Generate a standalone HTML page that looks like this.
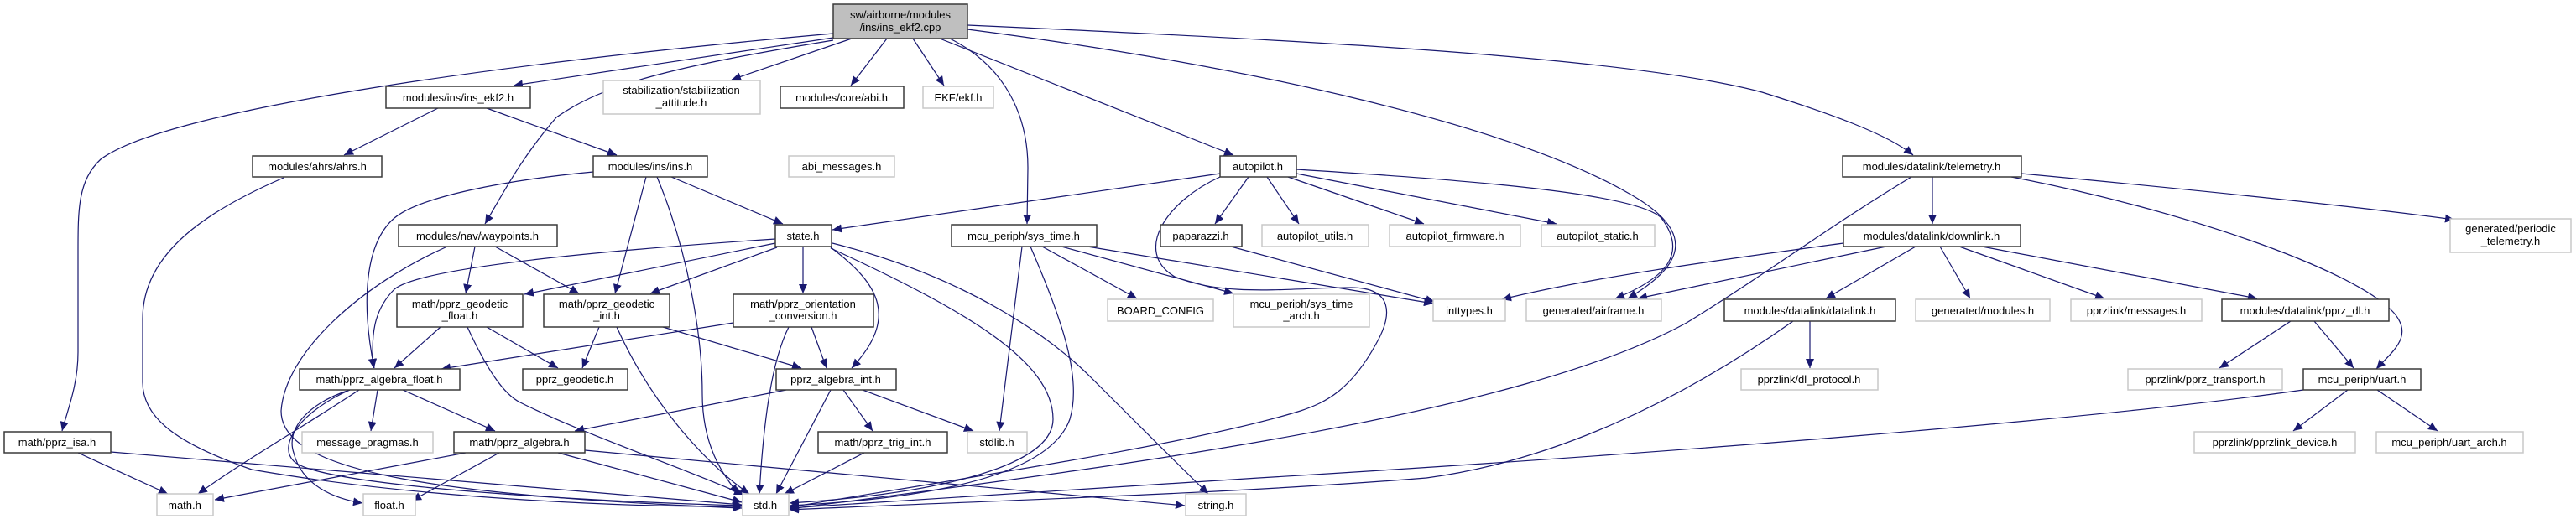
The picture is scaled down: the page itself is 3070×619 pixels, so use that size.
<!DOCTYPE html>
<html><head><meta charset="utf-8"><style>
html,body{margin:0;padding:0;background:#fff;}
svg{display:block;}
text{font-family:"Liberation Sans",sans-serif;font-size:13px;fill:#000;text-anchor:middle;}
.b{fill:#fff;stroke:#3a3a3a;stroke-width:1.5;}
.g{fill:#fff;stroke:#c8c8c8;stroke-width:1.5;}
.e{fill:none;stroke:#191970;stroke-width:1.2;marker-end:url(#a);}
</style></head><body>
<svg width="3070" height="619" viewBox="0 0 3070 619" xmlns="http://www.w3.org/2000/svg">
<defs><marker id="a" markerWidth="12" markerHeight="10" refX="11" refY="5" orient="auto" markerUnits="userSpaceOnUse"><path d="M0,0 L11,5 L0,10 z" fill="#191970"/></marker></defs>
<g>
<!-- root edges -->
<path class="e" d="M993,40 C600,75 200,130 120,190 C93,215 93,250 93,300 L93,420 C93,460 80,490 74,514"/>
<path class="e" d="M993,45 L612,102"/>
<path class="e" d="M993,48 C800,80 720,100 663,140 C620,190 600,230 578,267"/>
<path class="e" d="M1015,46 L872,95"/>
<path class="e" d="M1057,46 L1014,102"/>
<path class="e" d="M1088,46 L1125,102"/>
<path class="e" d="M1132,46 C1200,80 1225,140 1225,200 L1224,267"/>
<path class="e" d="M1120,46 L1470,185"/>
<path class="e" d="M1153,35 C1500,80 1800,150 1940,230 C2030,280 2000,320 1940,356"/>
<path class="e" d="M1153,30 C1600,50 1950,70 2100,110 C2180,135 2250,160 2280,185"/>
<!-- ins_ekf2.h -->
<path class="e" d="M522,129 L410,185"/>
<path class="e" d="M580,129 L735,185"/>
<!-- ahrs -->
<path class="e" d="M338,212 C250,250 170,300 170,380 L170,456 C170,500 214,530 300,560 C500,595 750,605 884,604"/>
<!-- ins.h -->
<path class="e" d="M707,205 C600,215 500,235 470,260 C435,290 430,360 446,439"/>
<path class="e" d="M770,211 L733,350"/>
<path class="e" d="M783,211 C820,300 837,400 837,470 C837,530 860,565 880,589"/>
<path class="e" d="M800,211 L933,267"/>
<!-- waypoints -->
<path class="e" d="M533,294 C430,340 340,420 335,490 C335,560 500,590 884,606"/>
<path class="e" d="M566,294 L555,350"/>
<path class="e" d="M590,294 L690,350"/>
<!-- state -->
<path class="e" d="M924,285 C700,300 500,320 470,345 C445,370 442,400 445,439"/>
<path class="e" d="M924,290 L625,351"/>
<path class="e" d="M926,295 L775,350"/>
<path class="e" d="M957,294 L957,350"/>
<path class="e" d="M990,295 C1050,340 1070,380 1015,439"/>
<path class="e" d="M990,296 C1150,370 1255,430 1255,500 C1255,560 1100,590 941,600"/>
<path class="e" d="M992,290 C1150,330 1250,400 1300,450 C1360,510 1410,560 1440,589"/>
<!-- orientation -->
<path class="e" d="M874,385 L526,440"/>
<path class="e" d="M967,390 L985,439"/>
<path class="e" d="M940,390 C920,430 910,500 905,589"/>
<!-- geodetic float/int -->
<path class="e" d="M525,390 L470,439"/>
<path class="e" d="M580,390 L665,439"/>
<path class="e" d="M557,390 C580,440 600,470 620,480 C700,520 820,560 886,590"/>
<path class="e" d="M714,390 L694,439"/>
<path class="e" d="M790,390 L955,439"/>
<path class="e" d="M735,390 C780,490 850,560 893,589"/>
<!-- algebra_float -->
<path class="e" d="M428,465 C360,510 290,550 236,589"/>
<path class="e" d="M450,465 L442,514"/>
<path class="e" d="M480,465 L590,514"/>
<path class="e" d="M417,465 C370,480 340,510 350,540 C360,580 400,595 432,600"/>
<path class="e" d="M417,465 C360,490 330,530 350,550 C380,580 700,598 884,603"/>
<!-- algebra_int -->
<path class="e" d="M937,465 L685,514"/>
<path class="e" d="M990,465 L925,589"/>
<path class="e" d="M1005,465 L1040,514"/>
<path class="e" d="M1028,465 L1160,514"/>
<!-- algebra.h -->
<path class="e" d="M555,540 L256,596"/>
<path class="e" d="M595,540 L491,597"/>
<path class="e" d="M665,540 L884,599"/>
<path class="e" d="M697,537 L1412,603"/>
<!-- isa -->
<path class="e" d="M93,540 L200,589"/>
<path class="e" d="M132,539 L884,602"/>
<!-- trig -->
<path class="e" d="M1030,540 L935,589"/>
<!-- sys_time -->
<path class="e" d="M1218,294 L1191,514"/>
<path class="e" d="M1228,294 C1265,380 1290,450 1275,500 C1250,570 1100,595 941,603"/>
<path class="e" d="M1242,294 L1355,356"/>
<path class="e" d="M1265,294 L1470,350"/>
<path class="e" d="M1296,294 L1708,362"/>
<!-- autopilot -->
<path class="e" d="M1454,207 L992,274"/>
<path class="e" d="M1488,211 L1448,267"/>
<path class="e" d="M1510,211 L1548,267"/>
<path class="e" d="M1535,211 L1697,267"/>
<path class="e" d="M1545,207 L1855,267"/>
<path class="e" d="M1545,202 C1750,215 1950,230 1980,260 C2010,300 1990,330 1925,356"/>
<path class="e" d="M1454,211 C1390,240 1350,300 1400,330 C1460,355 1540,343 1610,343 C1660,343 1660,375 1640,410 C1610,465 1580,480 1550,490 C1420,530 1150,570 941,605"/>
<path class="e" d="M1467,294 L1710,360"/>
<!-- telemetry -->
<path class="e" d="M2303,211 L2303,267"/>
<path class="e" d="M2278,211 C2180,270 2100,330 2010,385 C1800,500 1300,560 941,607"/>
<path class="e" d="M2409,207 C2600,225 2800,245 2925,262"/>
<path class="e" d="M2397,211 C2600,250 2800,320 2850,370 C2880,400 2850,420 2832,440"/>
<!-- downlink -->
<path class="e" d="M2197,290 C2050,310 1900,330 1790,357"/>
<path class="e" d="M2248,294 L1952,356"/>
<path class="e" d="M2283,294 L2176,356"/>
<path class="e" d="M2312,294 L2348,356"/>
<path class="e" d="M2335,294 L2508,356"/>
<path class="e" d="M2362,294 L2690,356"/>
<!-- datalink -->
<path class="e" d="M2157,383 L2157,439"/>
<path class="e" d="M2137,383 C2000,480 1850,550 1700,570 C1450,590 1150,598 941,608"/>
<!-- pprz_dl -->
<path class="e" d="M2730,383 L2645,439"/>
<path class="e" d="M2758,383 L2805,439"/>
<!-- uart -->
<path class="e" d="M2798,465 L2733,514"/>
<path class="e" d="M2833,465 L2905,514"/>
<path class="e" d="M2745,465 C2500,500 2000,540 1500,570 C1250,585 1100,595 941,606"/>
</g>
<g>
<rect x="993" y="5" width="160" height="41" fill="#bfbfbf" stroke="#3a3a3a" stroke-width="1.5"/>
<text x="1073" y="22">sw/airborne/modules</text><text x="1073" y="37">/ins/ins_ekf2.cpp</text>
<rect class="b" x="460" y="103" width="172" height="26"/><text x="546" y="121">modules/ins/ins_ekf2.h</text>
<rect class="g" x="719" y="96" width="187" height="40"/><text x="812" y="112">stabilization/stabilization</text><text x="812" y="127">_attitude.h</text>
<rect class="b" x="930" y="103" width="147" height="26"/><text x="1003" y="121">modules/core/abi.h</text>
<rect class="g" x="1100" y="103" width="84" height="26"/><text x="1142" y="121">EKF/ekf.h</text>
<rect class="b" x="301" y="186" width="154" height="25"/><text x="378" y="203">modules/ahrs/ahrs.h</text>
<rect class="b" x="707" y="186" width="136" height="25"/><text x="775" y="203">modules/ins/ins.h</text>
<rect class="g" x="940" y="186" width="126" height="25"/><text x="1003" y="203">abi_messages.h</text>
<rect class="b" x="1454" y="186" width="91" height="25"/><text x="1499" y="203">autopilot.h</text>
<rect class="b" x="2196" y="186" width="213" height="25"/><text x="2302" y="203">modules/datalink/telemetry.h</text>
<rect class="b" x="475" y="268" width="189" height="26"/><text x="569" y="286">modules/nav/waypoints.h</text>
<rect class="b" x="924" y="268" width="67" height="26"/><text x="957" y="286">state.h</text>
<rect class="b" x="1134" y="268" width="173" height="26"/><text x="1220" y="286">mcu_periph/sys_time.h</text>
<rect class="b" x="1383" y="268" width="97" height="26"/><text x="1431" y="286">paparazzi.h</text>
<rect class="g" x="1504" y="268" width="127" height="26"/><text x="1567" y="286">autopilot_utils.h</text>
<rect class="g" x="1656" y="268" width="156" height="26"/><text x="1734" y="286">autopilot_firmware.h</text>
<rect class="g" x="1837" y="268" width="135" height="26"/><text x="1904" y="286">autopilot_static.h</text>
<rect class="b" x="2197" y="268" width="211" height="26"/><text x="2302" y="286">modules/datalink/downlink.h</text>
<rect class="g" x="2920" y="261" width="144" height="40"/><text x="2992" y="277">generated/periodic</text><text x="2992" y="292">_telemetry.h</text>
<rect class="b" x="473" y="351" width="150" height="39"/><text x="548" y="367">math/pprz_geodetic</text><text x="548" y="381">_float.h</text>
<rect class="b" x="648" y="351" width="150" height="39"/><text x="723" y="367">math/pprz_geodetic</text><text x="723" y="381">_int.h</text>
<rect class="b" x="874" y="351" width="167" height="39"/><text x="957" y="367">math/pprz_orientation</text><text x="957" y="381">_conversion.h</text>
<rect class="g" x="1320" y="357" width="126" height="26"/><text x="1383" y="375">BOARD_CONFIG</text>
<rect class="g" x="1470" y="351" width="162" height="39"/><text x="1551" y="367">mcu_periph/sys_time</text><text x="1551" y="381">_arch.h</text>
<rect class="g" x="1708" y="357" width="86" height="26"/><text x="1751" y="375">inttypes.h</text>
<rect class="g" x="1819" y="357" width="161" height="26"/><text x="1899" y="375">generated/airframe.h</text>
<rect class="b" x="2055" y="357" width="204" height="26"/><text x="2157" y="375">modules/datalink/datalink.h</text>
<rect class="g" x="2283" y="357" width="160" height="26"/><text x="2363" y="375">generated/modules.h</text>
<rect class="g" x="2468" y="357" width="156" height="26"/><text x="2546" y="375">pprzlink/messages.h</text>
<rect class="b" x="2648" y="357" width="199" height="26"/><text x="2747" y="375">modules/datalink/pprz_dl.h</text>
<rect class="b" x="357" y="440" width="191" height="25"/><text x="452" y="457">math/pprz_algebra_float.h</text>
<rect class="b" x="623" y="440" width="125" height="25"/><text x="685" y="457">pprz_geodetic.h</text>
<rect class="b" x="925" y="440" width="143" height="25"/><text x="996" y="457">pprz_algebra_int.h</text>
<rect class="g" x="2075" y="440" width="163" height="25"/><text x="2156" y="457">pprzlink/dl_protocol.h</text>
<rect class="g" x="2536" y="440" width="184" height="25"/><text x="2628" y="457">pprzlink/pprz_transport.h</text>
<rect class="b" x="2745" y="440" width="140" height="25"/><text x="2815" y="457">mcu_periph/uart.h</text>
<rect class="b" x="5" y="515" width="127" height="25"/><text x="68" y="532">math/pprz_isa.h</text>
<rect class="g" x="360" y="515" width="156" height="25"/><text x="438" y="532">message_pragmas.h</text>
<rect class="b" x="541" y="515" width="156" height="25"/><text x="619" y="532">math/pprz_algebra.h</text>
<rect class="b" x="975" y="515" width="154" height="25"/><text x="1052" y="532">math/pprz_trig_int.h</text>
<rect class="g" x="1153" y="515" width="71" height="25"/><text x="1188" y="532">stdlib.h</text>
<rect class="g" x="2615" y="515" width="192" height="25"/><text x="2711" y="532">pprzlink/pprzlink_device.h</text>
<rect class="g" x="2832" y="515" width="175" height="25"/><text x="2919" y="532">mcu_periph/uart_arch.h</text>
<rect class="g" x="187" y="589" width="67" height="26"/><text x="220" y="607">math.h</text>
<rect class="g" x="433" y="589" width="62" height="26"/><text x="464" y="607">float.h</text>
<rect class="g" x="885" y="589" width="55" height="26"/><text x="912" y="607">std.h</text>
<rect class="g" x="1413" y="589" width="72" height="26"/><text x="1449" y="607">string.h</text>
</g>
</svg>
</body></html>
